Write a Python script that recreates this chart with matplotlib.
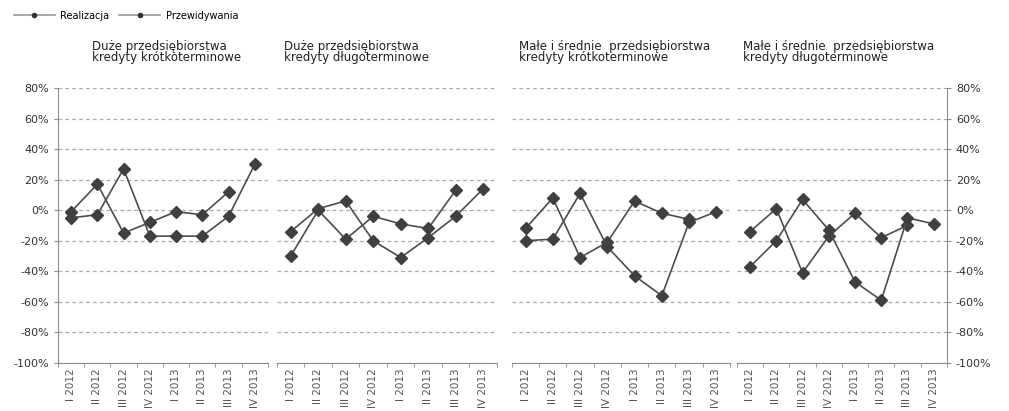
import numpy as np
import matplotlib
matplotlib.use("Agg")
import matplotlib.pyplot as plt
from matplotlib.lines import Line2D

plt.rcParams['font.family'] = ['DejaVu Sans']

# kwartaly
kwartaly = ['I 2012', 'II 2012', 'III 2012', 'IV 2012',
            'I 2013', 'II 2013', 'III 2013', 'IV 2013']

tytuly = ['Duże przedsiębiorstwa\nkredyty krótkoterminowe',
          'Duże przedsiębiorstwa\nkredyty długoterminowe',
          'Małe i średnie  przedsiębiorstwa\nkredyty krótkoterminowe',
          'Małe i średnie  przedsiębiorstwa\nkredyty długoterminowe']

# dane (%), realizacja konczy sie na III 2013
realizacja_dk = [-1, 17, -15, -8, -1, -3, 12, np.nan]
przewidywania_dk = [-5, -3, 27, -17, -17, -17, -4, 30]

realizacja_dd = [-30, 0, -19, -4, -9, -12, 13, np.nan]
przewidywania_dd = [-14, 1, 6, -20, -31, -18, -4, 14]

realizacja_mk = [-12, 8, -31, -21, 6, -2, -6, np.nan]
przewidywania_mk = [-20, -19, 11, -24, -43, -56, -8, -1]

realizacja_md = [-14, 1, -41, -17, -2, -18, -10, np.nan]
przewidywania_md = [-37, -20, 7, -13, -47, -59, -5, -9]

realizacja = [realizacja_dk, realizacja_dd, realizacja_mk, realizacja_md]
przewidywania = [przewidywania_dk, przewidywania_dd, przewidywania_mk, przewidywania_md]

yticks = np.arange(-100, 81, 20)

fig = plt.figure(figsize=(10.09, 4.11), dpi=100)

# pozycje paneli (lewo, szerokosc)
pozycje = [(0.0575, 0.208), (0.2745, 0.218), (0.5074, 0.216), (0.7304, 0.208)]
dol, wys = 0.117, 0.669

kolor_linii = '#4d4d4d'
kolor_osi = '#8c8c8c'

x = np.arange(len(kwartaly))
for i, (l, w) in enumerate(pozycje):
    ax = fig.add_axes([l, dol, w, wys])
    ax.plot(x, realizacja[i], color=kolor_linii, lw=1.2, marker='D',
            ms=6.5, mfc='#3f3f3f', mec='#3f3f3f')
    ax.plot(x, przewidywania[i], color=kolor_linii, lw=1.2, marker='D',
            ms=6.5, mfc='#3f3f3f', mec='#3f3f3f')
    ax.set_xlim(-0.5, 7.5)
    ax.set_ylim(-100, 80)
    ax.set_yticks(yticks)
    ax.yaxis.grid(True, color='#ababab', ls=(0, (3, 2.5)), lw=0.9)
    ax.set_axisbelow(True)

    ax.set_xticks(x)
    ax.set_xticklabels(kwartaly, rotation=90, fontsize=7.5, color='#555555')
    ax.set_xticks(np.arange(-0.5, 8, 1), minor=True)
    ax.tick_params(axis='x', which='major', length=0, pad=4)
    ax.tick_params(axis='x', which='minor', length=3, color=kolor_osi)

    for s in ['top', 'left', 'right']:
        ax.spines[s].set_visible(False)
    ax.spines['bottom'].set_color(kolor_osi)

    if i == 0:
        ax.spines['left'].set_visible(True)
        ax.spines['left'].set_color(kolor_osi)
        ax.set_yticklabels([f'{v}%' for v in yticks], fontsize=8, color='#333333')
        ax.tick_params(axis='y', length=3, color=kolor_osi)
    elif i == 3:
        ax.spines['right'].set_visible(True)
        ax.spines['right'].set_color(kolor_osi)
        ax.yaxis.tick_right()
        ax.set_yticklabels([f'{v}%' for v in yticks], fontsize=8, color='#333333')
        ax.tick_params(axis='y', length=3, color=kolor_osi)
    else:
        ax.set_yticklabels([])
        ax.tick_params(axis='y', length=0)

    ax.text(0.03 if i > 0 else 0.16, 1.175, tytuly[i], transform=ax.transAxes,
            fontsize=8.5, ha='left', va='top', linespacing=0.85, color='#222222')

# legenda
uchwyty = [Line2D([], [], color='#999999', lw=1.2, marker='o', ms=3,
                  mfc='#333333', mec='#333333'),
           Line2D([], [], color='#999999', lw=1.2, marker='o', ms=3,
                  mfc='#333333', mec='#333333')]
fig.legend(uchwyty, ['Realizacja', 'Przewidywania'], loc='upper left',
           bbox_to_anchor=(0.005, 0.995), ncol=2, frameon=False, fontsize=7,
           handlelength=4.2, columnspacing=1.0, handletextpad=0.6)

fig.savefig('out.png', dpi=100)
